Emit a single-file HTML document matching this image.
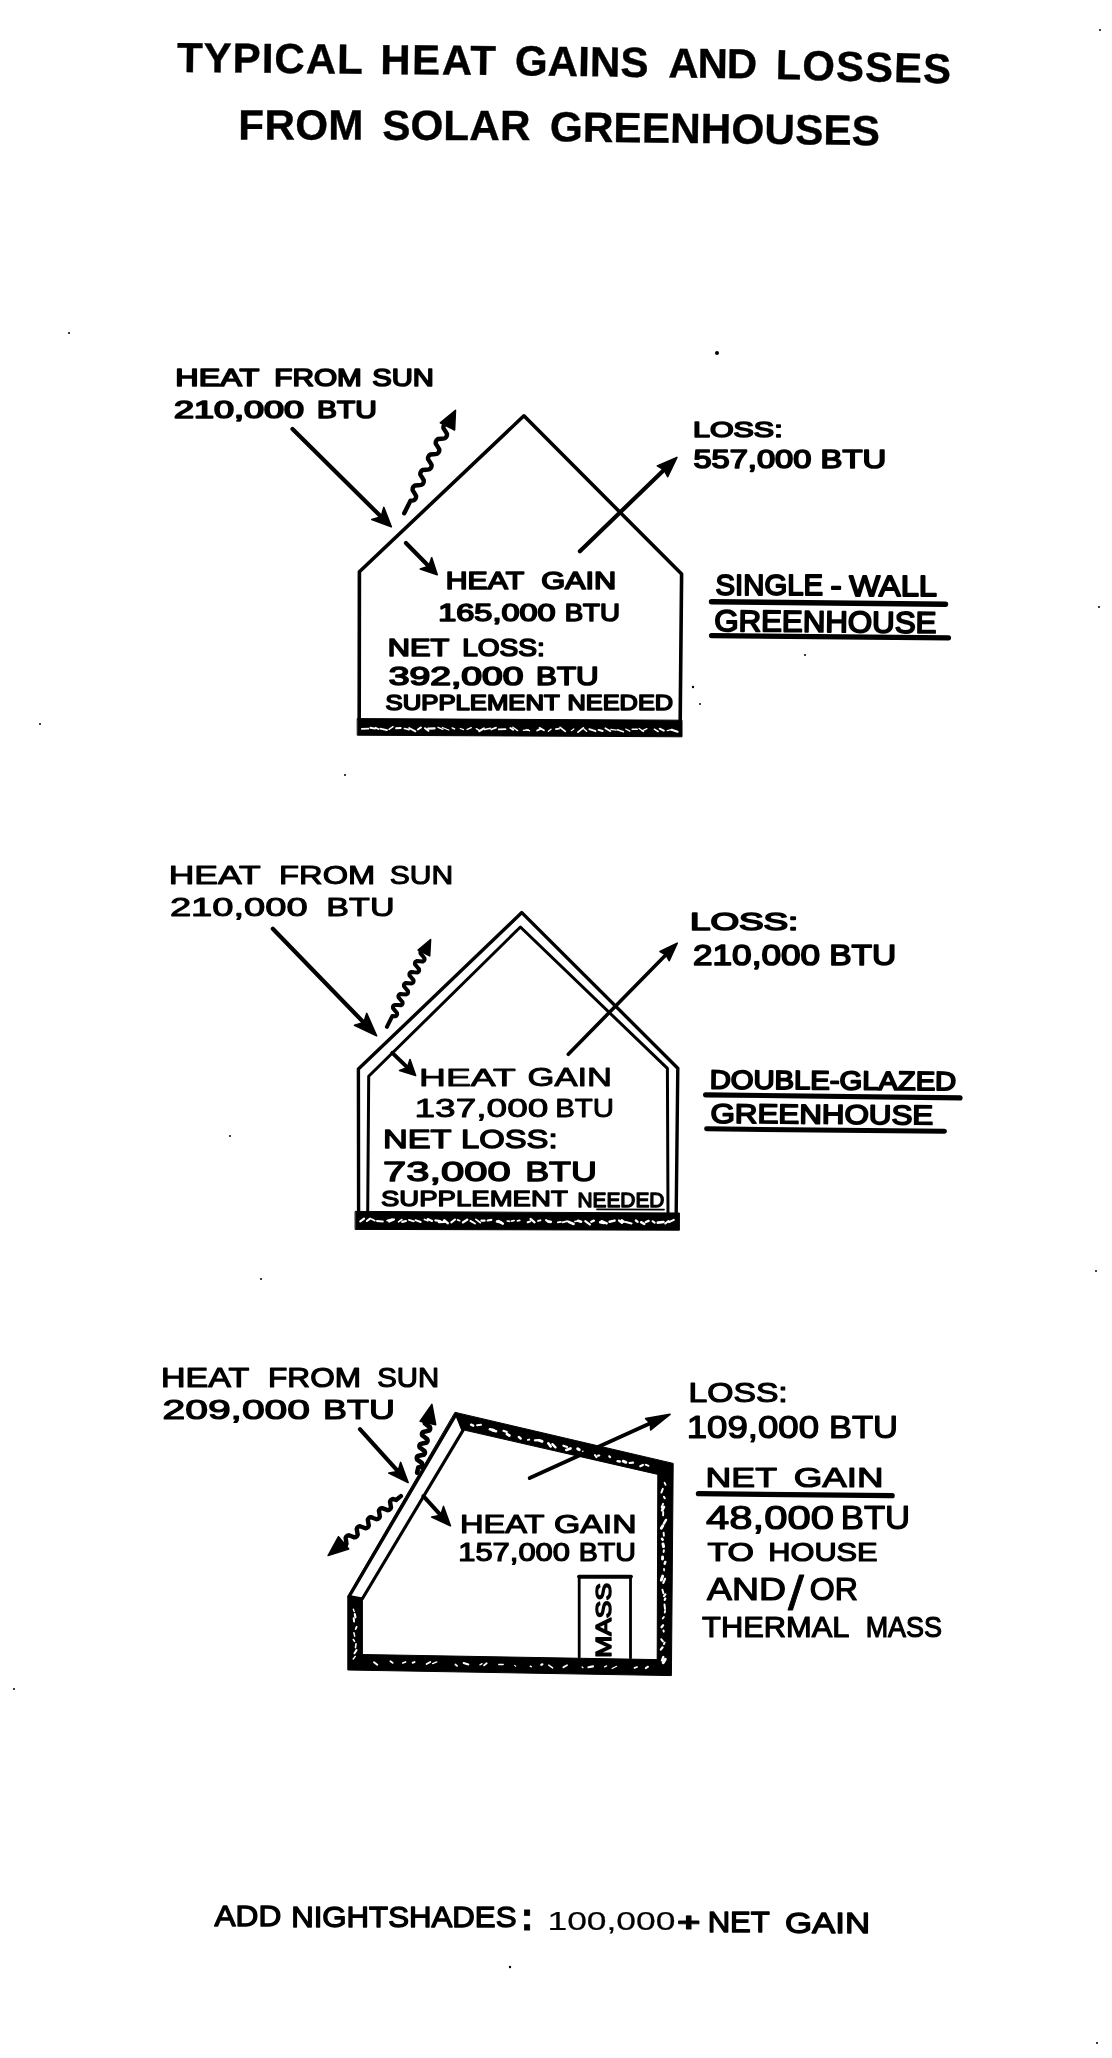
<!DOCTYPE html>
<html><head><meta charset="utf-8"><title>Typical heat gains and losses from solar greenhouses</title>
<style>
html,body{margin:0;padding:0;background:#fff}
svg{display:block;will-change:transform}
text{font-family:"Liberation Sans",sans-serif;fill:#000;stroke-linejoin:round}
text.t{font-weight:bold;stroke:#000}
line,path{stroke:#000;stroke-linecap:round;stroke-linejoin:round}
line.w{stroke:#fff}
</style></head><body>
<svg width="1112" height="2058" viewBox="0 0 1112 2058">
<rect x="0" y="0" width="1112" height="2058" fill="#fff" stroke="none"/>
<text class="t" transform="translate(176.88,72.10) rotate(0.500)" font-size="42.01" letter-spacing="1.034" stroke-width="0.4">TYPICAL</text>
<text class="t" transform="translate(380.28,74.00) rotate(0.500)" font-size="41.86" letter-spacing="1.606" stroke-width="0.4">HEAT</text>
<text class="t" transform="translate(514.81,75.20) rotate(0.800)" font-size="42.15" letter-spacing="0.013" stroke-width="0.4">GAINS</text>
<text class="t" transform="translate(668.25,77.40) rotate(0.600)" font-size="41.86" letter-spacing="-1.003" stroke-width="0.4">AND</text>
<text class="t" transform="translate(775.48,79.00) rotate(1.450)" font-size="41.86" letter-spacing="1.068" stroke-width="0.4">LOSSES</text>
<text class="t" transform="translate(238.36,139.40) rotate(0.100)" font-size="42.15" letter-spacing="0.318" stroke-width="0.4">FROM</text>
<text class="t" transform="translate(382.14,139.70) rotate(0.200)" font-size="42.15" letter-spacing="0.170" stroke-width="0.4">SOLAR</text>
<text class="t" transform="translate(549.71,141.30) rotate(0.680)" font-size="42.30" letter-spacing="0.101" stroke-width="0.4">GREENHOUSES</text>
<g id="d1">
<text transform="translate(175.31,385.70) scale(1.3273,1)" font-size="24.42" stroke="#000" stroke-width="1.6">HEAT</text>
<text transform="translate(274.22,385.70) scale(1.2197,1)" font-size="24.42" stroke="#000" stroke-width="1.6">FROM</text>
<text transform="translate(372.29,385.70) scale(1.1966,1)" font-size="24.42" stroke="#000" stroke-width="1.6">SUN</text>
<text transform="translate(174.10,417.60) scale(1.5446,1)" font-size="23.26" stroke="#000" stroke-width="1.6">210,000</text>
<text transform="translate(317.01,417.60) scale(1.2842,1)" font-size="23.26" stroke="#000" stroke-width="1.6">BTU</text>
<text transform="translate(445.78,589.00) scale(1.2459,1)" font-size="24.27" stroke="#000" stroke-width="1.6">HEAT</text>
<text transform="translate(541.16,589.00) scale(1.2671,1)" font-size="24.27" stroke="#000" stroke-width="1.6">GAIN</text>
<text transform="translate(438.26,620.70) scale(1.3376,1)" font-size="24.27" stroke="#000" stroke-width="1.6">165,000</text>
<text transform="translate(564.69,620.70) scale(1.1388,1)" font-size="24.27" stroke="#000" stroke-width="1.6">BTU</text>
<text transform="translate(387.74,655.80) scale(1.2609,1)" font-size="24.42" stroke="#000" stroke-width="1.6">NET</text>
<text transform="translate(462.15,655.80) scale(1.1511,1)" font-size="24.42" stroke="#000" stroke-width="1.6">LOSS:</text>
<text transform="translate(388.71,684.60) scale(1.4915,1)" font-size="25.00" stroke="#000" stroke-width="1.6">392,000</text>
<text transform="translate(536.09,684.60) scale(1.2531,1)" font-size="25.00" stroke="#000" stroke-width="1.6">BTU</text>
<text transform="translate(385.54,709.80) scale(1.2037,1)" font-size="21.37" stroke="#000" stroke-width="1.6">SUPPLEMENT</text>
<text transform="translate(567.57,709.80) scale(1.1851,1)" font-size="21.37" stroke="#000" stroke-width="1.6">NEEDED</text>
<text transform="translate(692.96,436.90) scale(1.3516,1)" font-size="22.53" stroke="#000" stroke-width="1.6">LOSS:</text>
<text transform="translate(693.39,468.40) scale(1.2975,1)" font-size="25.15" stroke="#000" stroke-width="1.6">557,000</text>
<text transform="translate(820.47,468.40) scale(1.3062,1)" font-size="25.15" stroke="#000" stroke-width="1.6">BTU</text>
<text transform="translate(715.58,595.23) scale(0.9882,1)" font-size="29.65" stroke="#000" stroke-width="1.8">SINGLE</text>
<text transform="translate(830.39,595.78) scale(1.1288,1)" font-size="29.65" stroke="#000" stroke-width="1.8">-</text>
<text transform="translate(849.24,596.24) scale(1.1021,1)" font-size="29.65" stroke="#000" stroke-width="1.8">WALL</text>
<text transform="translate(714.14,630.90) rotate(0.550) scale(1.0438,1)" font-size="29.94" stroke="#000" stroke-width="1.8">GREENHOUSE</text>
<line x1="711.5" y1="601.7" x2="945.5" y2="604.2" stroke-width="5.4"/>
<line x1="711.5" y1="635.6" x2="948.5" y2="637.8" stroke-width="5.2"/>
<path d="M359.2,719.0 L359.4,571.8 L523.9,415.8 L681.6,574.1 L680.2,720.0" stroke-width="3.6" fill="none" stroke-linejoin="miter"/>
<path d="M357.6,718.6 L682,720.2 L682,736.8 L357.6,735.2 Z" fill="#000" stroke="none"/>
<line class="w" x1="361.8" y1="728.9" x2="368.5" y2="728.6" stroke-width="1.7"/>
<line class="w" x1="370.4" y1="727.7" x2="375.1" y2="728.6" stroke-width="1.9"/>
<line class="w" x1="375.6" y1="727.7" x2="378.3" y2="729.0" stroke-width="1.8"/>
<line class="w" x1="380.2" y1="728.7" x2="386.9" y2="730.2" stroke-width="1.8"/>
<line class="w" x1="389.0" y1="729.4" x2="393.0" y2="726.6" stroke-width="1.4"/>
<line class="w" x1="396.1" y1="728.2" x2="400.7" y2="727.9" stroke-width="2.0"/>
<line class="w" x1="404.4" y1="728.5" x2="409.1" y2="729.6" stroke-width="1.6"/>
<line class="w" x1="409.2" y1="728.0" x2="415.4" y2="731.3" stroke-width="1.9"/>
<line class="w" x1="417.8" y1="729.5" x2="421.0" y2="727.4" stroke-width="1.9"/>
<line class="w" x1="425.0" y1="728.2" x2="428.4" y2="730.8" stroke-width="2.0"/>
<line class="w" x1="428.1" y1="728.6" x2="434.7" y2="728.4" stroke-width="2.1"/>
<line class="w" x1="438.0" y1="727.3" x2="442.9" y2="729.3" stroke-width="1.4"/>
<line class="w" x1="442.4" y1="727.5" x2="448.8" y2="730.0" stroke-width="1.3"/>
<line class="w" x1="452.1" y1="727.9" x2="454.6" y2="729.0" stroke-width="1.4"/>
<line class="w" x1="460.3" y1="728.5" x2="463.5" y2="729.6" stroke-width="1.3"/>
<line class="w" x1="467.2" y1="729.4" x2="471.3" y2="727.7" stroke-width="1.4"/>
<line class="w" x1="476.3" y1="728.7" x2="479.6" y2="730.7" stroke-width="1.4"/>
<line class="w" x1="479.3" y1="731.2" x2="483.9" y2="728.4" stroke-width="2.1"/>
<line class="w" x1="484.6" y1="729.5" x2="490.4" y2="728.2" stroke-width="1.5"/>
<line class="w" x1="491.2" y1="729.5" x2="496.0" y2="727.7" stroke-width="1.8"/>
<line class="w" x1="498.7" y1="729.3" x2="505.5" y2="729.2" stroke-width="1.7"/>
<line class="w" x1="510.4" y1="728.0" x2="513.1" y2="729.7" stroke-width="2.0"/>
<line class="w" x1="512.8" y1="727.2" x2="517.6" y2="730.6" stroke-width="1.4"/>
<line class="w" x1="523.3" y1="730.3" x2="528.5" y2="729.8" stroke-width="1.3"/>
<line class="w" x1="526.1" y1="729.7" x2="529.5" y2="730.7" stroke-width="1.4"/>
<line class="w" x1="537.2" y1="730.5" x2="540.7" y2="728.8" stroke-width="1.9"/>
<line class="w" x1="539.5" y1="727.9" x2="543.9" y2="730.3" stroke-width="1.8"/>
<line class="w" x1="548.4" y1="731.3" x2="551.0" y2="729.2" stroke-width="1.4"/>
<line class="w" x1="555.9" y1="729.2" x2="559.1" y2="728.6" stroke-width="1.7"/>
<line class="w" x1="560.1" y1="727.4" x2="565.2" y2="731.4" stroke-width="1.8"/>
<line class="w" x1="571.3" y1="730.7" x2="573.8" y2="728.9" stroke-width="1.2"/>
<line class="w" x1="578.0" y1="732.1" x2="583.3" y2="727.9" stroke-width="1.8"/>
<line class="w" x1="583.7" y1="728.8" x2="586.7" y2="731.4" stroke-width="1.3"/>
<line class="w" x1="589.3" y1="729.1" x2="595.5" y2="731.2" stroke-width="1.8"/>
<line class="w" x1="598.6" y1="729.9" x2="602.6" y2="731.0" stroke-width="2.0"/>
<line class="w" x1="605.3" y1="728.2" x2="610.5" y2="731.2" stroke-width="1.7"/>
<line class="w" x1="610.9" y1="729.3" x2="616.0" y2="730.1" stroke-width="1.3"/>
<line class="w" x1="617.3" y1="729.7" x2="623.4" y2="731.7" stroke-width="1.6"/>
<line class="w" x1="625.8" y1="729.0" x2="629.8" y2="731.1" stroke-width="1.3"/>
<line class="w" x1="632.1" y1="729.3" x2="637.3" y2="729.2" stroke-width="1.4"/>
<line class="w" x1="639.1" y1="728.5" x2="643.5" y2="731.5" stroke-width="1.4"/>
<line class="w" x1="641.9" y1="730.8" x2="646.9" y2="728.6" stroke-width="1.3"/>
<line class="w" x1="654.3" y1="729.2" x2="658.1" y2="731.5" stroke-width="1.5"/>
<line class="w" x1="659.7" y1="728.7" x2="663.8" y2="730.6" stroke-width="2.0"/>
<line class="w" x1="667.3" y1="730.6" x2="672.3" y2="729.3" stroke-width="1.3"/>
<line class="w" x1="671.5" y1="729.8" x2="677.6" y2="731.7" stroke-width="2.1"/>
<line x1="292.5" y1="429.0" x2="383.2" y2="518.8" stroke-width="4.2"/>
<path d="M391.3,526.8 L371.8,519.5 L381.2,516.8 L383.8,507.4 Z" fill="#000" stroke-width="1.6"/>
<line x1="405.9" y1="543.0" x2="430.5" y2="568.0" stroke-width="4.2"/>
<path d="M437.2,574.8 L420.3,569.0 L428.8,566.2 L431.7,557.8 Z" fill="#000" stroke-width="1.6"/>
<line x1="579.9" y1="551.3" x2="668.3" y2="465.7" stroke-width="4.2"/>
<path d="M676.9,457.4 L667.7,476.7 L664.0,469.9 L657.3,465.9 Z" fill="#000" stroke-width="1.6"/>
<path d="M404.2,513.3 L410.5,500.7 L413.8,500.4 L415.2,499.2 L416.0,497.6 L416.1,495.8 L414.3,492.9 L412.6,490.1 L412.7,488.2 L413.4,486.7 L414.9,485.5 L418.2,485.2 L421.5,484.9 L423.0,483.7 L423.7,482.1 L423.8,480.3 L422.1,477.4 L420.3,474.6 L420.4,472.7 L421.2,471.2 L422.6,470.0 L425.9,469.7 L429.3,469.4 L430.7,468.2 L431.5,466.6 L431.6,464.8 L429.8,461.9 L428.0,459.1 L428.1,457.2 L428.9,455.7 L430.3,454.5 L433.6,454.2 L437.0,453.9 L438.4,452.7 L439.2,451.1 L439.3,449.3 L437.5,446.4 L435.7,443.6 L435.8,441.7 L436.6,440.2 L438.0,439.0 L441.4,438.7 L444.7,438.4 L446.1,437.2 L446.9,435.6 L447.0,433.8 L445.2,430.9 L443.4,428.1 L443.5,426.2 L444.3,424.7 L445.8,423.5 L449.1,423.2" stroke-width="4.4" fill="none" stroke-linejoin="round"/>
<path d="M455.5,410.3 L454.6,430.0 L440.3,422.8 Z" fill="#000" stroke-width="1.5"/>
</g>
<g id="d2">
<text transform="translate(168.66,884.00) scale(1.4185,1)" font-size="25.00" stroke="#000" stroke-width="1.0">HEAT</text>
<text transform="translate(279.08,884.00) scale(1.3079,1)" font-size="25.00" stroke="#000" stroke-width="1.0">FROM</text>
<text transform="translate(389.75,884.00) scale(1.2030,1)" font-size="25.00" stroke="#000" stroke-width="1.0">SUN</text>
<text transform="translate(169.89,915.70) scale(1.4917,1)" font-size="25.58" stroke="#000" stroke-width="1.0">210,000</text>
<text transform="translate(326.37,915.70) scale(1.3327,1)" font-size="25.58" stroke="#000" stroke-width="1.0">BTU</text>
<text transform="translate(419.07,1085.65) scale(1.4995,1)" font-size="24.85" stroke="#000" stroke-width="0.9">HEAT</text>
<text transform="translate(527.52,1085.65) scale(1.3904,1)" font-size="24.85" stroke="#000" stroke-width="0.9">GAIN</text>
<text transform="translate(414.47,1116.95) scale(1.3933,1)" font-size="26.60" stroke="#000" stroke-width="0.9">137,000</text>
<text transform="translate(555.19,1116.95) scale(1.1085,1)" font-size="26.60" stroke="#000" stroke-width="0.9">BTU</text>
<text transform="translate(382.90,1147.55) scale(1.3647,1)" font-size="25.15" stroke="#000" stroke-width="1.3">NET</text>
<text transform="translate(461.03,1147.55) scale(1.3027,1)" font-size="25.15" stroke="#000" stroke-width="1.3">LOSS:</text>
<text transform="translate(382.96,1180.75) scale(1.5526,1)" font-size="26.89" stroke="#000" stroke-width="1.3">73,000</text>
<text transform="translate(525.18,1180.75) scale(1.3344,1)" font-size="26.89" stroke="#000" stroke-width="1.3">BTU</text>
<text transform="translate(380.91,1206.35) scale(1.2559,1)" font-size="21.95" stroke="#000" stroke-width="1.3">SUPPLEMENT</text>
<text transform="translate(577.48,1206.65) scale(1.0403,1)" font-size="20.06" stroke="#000" stroke-width="1.3">NEEDED</text>
<line x1="597.0" y1="1209.3" x2="664.0" y2="1209.6" stroke-width="1.8"/>
<text transform="translate(689.96,930.10) scale(1.5158,1)" font-size="24.27" stroke="#000" stroke-width="1.6">LOSS:</text>
<text transform="translate(692.94,965.20) scale(1.1993,1)" font-size="29.36" stroke="#000" stroke-width="1.6">210,000</text>
<text transform="translate(829.22,965.20) scale(1.1427,1)" font-size="29.36" stroke="#000" stroke-width="1.6">BTU</text>
<text transform="translate(709.77,1088.50) rotate(0.400) scale(1.1154,1)" font-size="26.16" stroke="#000" stroke-width="1.8">DOUBLE-GLAZED</text>
<text transform="translate(710.48,1122.75) rotate(0.450) scale(1.1587,1)" font-size="27.03" stroke="#000" stroke-width="1.7">GREENHOUSE</text>
<line x1="705.6" y1="1094.8" x2="960.0" y2="1097.9" stroke-width="5.2"/>
<line x1="706.6" y1="1128.8" x2="944.5" y2="1131.3" stroke-width="5"/>
<path d="M358.6,1213.0 L358.4,1069.1 L521.8,912.6 L677.8,1068.2 L676.2,1213.0" stroke-width="3.4" fill="none" stroke-linejoin="miter"/>
<path d="M367.7,1213.0 L368.7,1076.3 L520.4,927.0 L667.4,1068.4 L668.0,1213.0" stroke-width="3.0" fill="none" stroke-linejoin="miter"/>
<path d="M355.5,1211.4 L679.4,1213 L679.4,1230.2 L355.5,1229.4 Z" fill="#000" stroke="none"/>
<line class="w" x1="360.3" y1="1221.3" x2="364.1" y2="1218.7" stroke-width="2.2"/>
<line class="w" x1="366.9" y1="1221.0" x2="370.1" y2="1218.6" stroke-width="2.1"/>
<line class="w" x1="371.5" y1="1219.1" x2="374.8" y2="1220.7" stroke-width="1.7"/>
<line class="w" x1="377.0" y1="1220.9" x2="382.8" y2="1221.5" stroke-width="2.0"/>
<line class="w" x1="387.1" y1="1220.6" x2="392.3" y2="1219.1" stroke-width="1.7"/>
<line class="w" x1="389.2" y1="1221.6" x2="393.9" y2="1219.4" stroke-width="2.2"/>
<line class="w" x1="398.5" y1="1221.9" x2="401.9" y2="1219.5" stroke-width="1.6"/>
<line class="w" x1="402.4" y1="1221.9" x2="405.9" y2="1221.0" stroke-width="2.2"/>
<line class="w" x1="408.9" y1="1219.8" x2="413.9" y2="1221.3" stroke-width="1.8"/>
<line class="w" x1="415.5" y1="1220.2" x2="420.7" y2="1222.0" stroke-width="1.9"/>
<line class="w" x1="424.4" y1="1219.5" x2="427.9" y2="1220.8" stroke-width="1.7"/>
<line class="w" x1="427.7" y1="1219.1" x2="432.0" y2="1220.9" stroke-width="2.2"/>
<line class="w" x1="435.4" y1="1220.4" x2="440.2" y2="1221.0" stroke-width="2.2"/>
<line class="w" x1="438.9" y1="1222.1" x2="444.7" y2="1221.9" stroke-width="2.3"/>
<line class="w" x1="444.2" y1="1220.2" x2="447.7" y2="1223.1" stroke-width="2.5"/>
<line class="w" x1="451.3" y1="1222.4" x2="455.0" y2="1219.5" stroke-width="2.1"/>
<line class="w" x1="457.6" y1="1219.9" x2="459.7" y2="1220.7" stroke-width="1.7"/>
<line class="w" x1="462.8" y1="1222.5" x2="467.4" y2="1219.5" stroke-width="2.1"/>
<line class="w" x1="470.4" y1="1220.9" x2="475.0" y2="1223.5" stroke-width="1.9"/>
<line class="w" x1="475.9" y1="1219.3" x2="480.3" y2="1222.7" stroke-width="1.7"/>
<line class="w" x1="481.5" y1="1220.7" x2="484.5" y2="1220.7" stroke-width="2.3"/>
<line class="w" x1="487.7" y1="1220.5" x2="491.3" y2="1219.9" stroke-width="2.2"/>
<line class="w" x1="496.9" y1="1221.5" x2="500.9" y2="1222.2" stroke-width="2.4"/>
<line class="w" x1="498.4" y1="1221.1" x2="502.8" y2="1223.7" stroke-width="2.5"/>
<line class="w" x1="507.2" y1="1221.0" x2="509.5" y2="1221.4" stroke-width="1.6"/>
<line class="w" x1="511.6" y1="1221.1" x2="514.2" y2="1220.5" stroke-width="1.6"/>
<line class="w" x1="517.4" y1="1220.9" x2="519.8" y2="1220.4" stroke-width="1.6"/>
<line class="w" x1="527.7" y1="1222.3" x2="530.2" y2="1221.4" stroke-width="2.0"/>
<line class="w" x1="530.5" y1="1218.9" x2="534.6" y2="1222.4" stroke-width="2.1"/>
<line class="w" x1="538.0" y1="1220.9" x2="540.4" y2="1220.3" stroke-width="1.9"/>
<line class="w" x1="546.1" y1="1220.2" x2="547.8" y2="1221.4" stroke-width="2.2"/>
<line class="w" x1="548.7" y1="1221.7" x2="550.8" y2="1221.8" stroke-width="2.7"/>
<line class="w" x1="557.8" y1="1222.4" x2="560.8" y2="1221.9" stroke-width="1.7"/>
<line class="w" x1="562.4" y1="1222.4" x2="567.4" y2="1221.2" stroke-width="1.8"/>
<line class="w" x1="568.7" y1="1221.8" x2="573.6" y2="1224.0" stroke-width="2.5"/>
<line class="w" x1="574.9" y1="1221.5" x2="578.9" y2="1220.7" stroke-width="1.6"/>
<line class="w" x1="578.1" y1="1220.8" x2="581.0" y2="1221.7" stroke-width="2.7"/>
<line class="w" x1="585.2" y1="1221.1" x2="590.0" y2="1224.6" stroke-width="2.0"/>
<line class="w" x1="591.3" y1="1221.7" x2="593.9" y2="1220.6" stroke-width="2.3"/>
<line class="w" x1="600.1" y1="1222.3" x2="603.9" y2="1223.1" stroke-width="2.5"/>
<line class="w" x1="601.5" y1="1221.2" x2="606.7" y2="1223.4" stroke-width="2.4"/>
<line class="w" x1="609.6" y1="1221.7" x2="614.6" y2="1220.6" stroke-width="2.5"/>
<line class="w" x1="619.1" y1="1220.6" x2="622.0" y2="1222.8" stroke-width="2.4"/>
<line class="w" x1="621.7" y1="1220.4" x2="623.8" y2="1221.8" stroke-width="2.5"/>
<line class="w" x1="625.8" y1="1222.1" x2="631.6" y2="1223.4" stroke-width="2.0"/>
<line class="w" x1="635.9" y1="1220.5" x2="637.6" y2="1221.8" stroke-width="2.3"/>
<line class="w" x1="641.1" y1="1222.2" x2="644.3" y2="1224.0" stroke-width="2.5"/>
<line class="w" x1="645.8" y1="1222.0" x2="648.7" y2="1220.9" stroke-width="2.2"/>
<line class="w" x1="652.5" y1="1221.2" x2="654.6" y2="1222.6" stroke-width="2.0"/>
<line class="w" x1="657.8" y1="1222.6" x2="663.4" y2="1222.0" stroke-width="2.7"/>
<line class="w" x1="665.3" y1="1223.5" x2="668.5" y2="1221.0" stroke-width="2.1"/>
<line class="w" x1="669.1" y1="1222.1" x2="673.8" y2="1219.9" stroke-width="2.1"/>
<line x1="272.8" y1="928.8" x2="367.0" y2="1025.9" stroke-width="4.2"/>
<path d="M376.6,1035.8 L354.5,1025.2 L363.8,1022.6 L366.7,1013.4 Z" fill="#000" stroke-width="1.6"/>
<line x1="392.3" y1="1052.9" x2="409.1" y2="1069.1" stroke-width="4"/>
<path d="M415.6,1075.4 L399.6,1070.4 L407.5,1067.6 L410.0,1059.6 Z" fill="#000" stroke-width="1.6"/>
<line x1="568.3" y1="1054.3" x2="669.6" y2="950.9" stroke-width="3.6"/>
<path d="M677.2,943.2 L669.2,960.6 L665.9,954.8 L660.0,951.5 Z" fill="#000" stroke-width="1.6"/>
<path d="M386.9,1026.8 L392.3,1016.1 L395.4,1016.3 L396.6,1015.5 L397.1,1014.4 L397.0,1013.0 L395.0,1010.6 L393.0,1008.2 L392.9,1006.8 L393.4,1005.7 L394.7,1004.9 L397.8,1005.1 L400.9,1005.3 L402.1,1004.6 L402.6,1003.5 L402.5,1002.0 L400.5,999.7 L398.5,997.3 L398.4,995.8 L398.9,994.8 L400.1,994.0 L403.3,994.2 L406.4,994.4 L407.6,993.6 L408.1,992.5 L408.0,991.1 L406.0,988.7 L404.0,986.3 L403.9,984.9 L404.4,983.8 L405.6,983.0 L408.7,983.2 L411.8,983.4 L413.1,982.6 L413.6,981.5 L413.5,980.1 L411.5,977.7 L409.5,975.4 L409.4,973.9 L409.9,972.8 L411.1,972.1 L414.2,972.3 L417.3,972.4 L418.6,971.7 L419.1,970.6 L419.0,969.1 L417.0,966.8 L415.0,964.4 L414.9,963.0 L415.4,961.9 L416.6,961.1 L419.7,961.3 L422.8,961.5 L424.0,960.7 L424.6,959.6 L424.5,958.2 L422.5,955.8 L420.5,953.4 L420.4,952.0 L420.9,950.9 L422.1,950.1 L425.2,950.3" stroke-width="4" fill="none" stroke-linejoin="round"/>
<path d="M430.6,939.6 L429.7,955.9 L418.1,950.1 Z" fill="#000" stroke-width="1.5"/>
</g>
<g id="d3">
<text transform="translate(161.08,1386.80) scale(1.2049,1)" font-size="28.20" stroke="#000" stroke-width="1.2">HEAT</text>
<text transform="translate(268.07,1386.80) scale(1.1213,1)" font-size="28.20" stroke="#000" stroke-width="1.2">FROM</text>
<text transform="translate(377.18,1386.80) scale(1.0398,1)" font-size="28.20" stroke="#000" stroke-width="1.2">SUN</text>
<text transform="translate(162.56,1419.10) scale(1.5171,1)" font-size="26.89" stroke="#000" stroke-width="1.2">209,000</text>
<text transform="translate(323.03,1419.10) scale(1.3364,1)" font-size="26.89" stroke="#000" stroke-width="1.2">BTU</text>
<text transform="translate(459.89,1533.00) scale(1.2620,1)" font-size="25.87" stroke="#000" stroke-width="1.2">HEAT</text>
<text transform="translate(554.11,1533.00) scale(1.3040,1)" font-size="25.87" stroke="#000" stroke-width="1.2">GAIN</text>
<text transform="translate(458.18,1561.40) scale(1.2382,1)" font-size="25.00" stroke="#000" stroke-width="1.2">157,000</text>
<text transform="translate(578.71,1561.40) scale(1.1447,1)" font-size="25.00" stroke="#000" stroke-width="1.2">BTU</text>
<text transform="translate(688.50,1402.20) scale(1.2201,1)" font-size="27.62" stroke="#000" stroke-width="1.2">LOSS:</text>
<text transform="translate(686.65,1437.60) scale(1.1570,1)" font-size="31.69" stroke="#000" stroke-width="1.2">109,000</text>
<text transform="translate(828.93,1437.60) scale(1.0913,1)" font-size="31.69" stroke="#000" stroke-width="1.2">BTU</text>
<text transform="translate(705.54,1486.70) scale(1.2674,1)" font-size="28.20" stroke="#000" stroke-width="1.2">NET</text>
<text transform="translate(793.66,1487.25) scale(1.3037,1)" font-size="28.20" stroke="#000" stroke-width="1.2">GAIN</text>
<text transform="translate(705.96,1529.05) scale(1.2858,1)" font-size="32.56" stroke="#000" stroke-width="1.2">48,000</text>
<text transform="translate(840.72,1529.47) scale(1.0671,1)" font-size="32.56" stroke="#000" stroke-width="1.2">BTU</text>
<text transform="translate(707.42,1561.20) scale(1.3376,1)" font-size="25.44" stroke="#000" stroke-width="1.2">TO</text>
<text transform="translate(768.24,1561.20) scale(1.2098,1)" font-size="25.44" stroke="#000" stroke-width="1.2">HOUSE</text>
<text transform="translate(707.10,1600.20) scale(1.2264,1)" font-size="30.52" stroke="#000" stroke-width="1.2">AND</text>
<text transform="translate(809.85,1600.20) scale(1.0526,1)" font-size="30.52" stroke="#000" stroke-width="1.2">OR</text>
<text transform="translate(788.00,1609.52) scale(0.5714,0.4762)" font-size="100" stroke="#000" stroke-width="1.75">/</text>
<text transform="translate(702.08,1637.20) scale(1.0400,1)" font-size="29.65" stroke="#000" stroke-width="1.2">THERMAL</text>
<text transform="translate(865.64,1637.20) scale(0.9089,1)" font-size="29.65" stroke="#000" stroke-width="1.2">MASS</text>
<text transform="translate(611.25,1657.76) rotate(-90) scale(1.2354,1)" font-size="21.37" stroke="#000" stroke-width="1.5">MASS</text>
<line x1="698.4" y1="1493.6" x2="892.2" y2="1495.7" stroke-width="5.2"/>
<path d="M455.3,1412.4 L673.2,1463.4 L671.4,1675.6 L347.8,1670.0 L347.8,1596.5 Z M462.1,1429.6 L657.8,1474.4 L657.2,1659.6 L362.4,1654.5 L362.4,1598.8 Z" fill="#000" fill-rule="evenodd" stroke="none"/>
<path d="M456.3,1414 L349.2,1596.5 L362.2,1599 L463,1430.4 Z" fill="#fff" stroke-width="3.1" stroke-linejoin="miter"/>
<line class="w" x1="471.1" y1="1424.7" x2="473.2" y2="1425.6" stroke-width="2.5"/>
<line class="w" x1="477.1" y1="1425.2" x2="481.0" y2="1424.8" stroke-width="2.0"/>
<line class="w" x1="489.8" y1="1429.2" x2="493.7" y2="1430.0" stroke-width="2.5"/>
<line class="w" x1="492.1" y1="1430.2" x2="496.0" y2="1431.2" stroke-width="2.7"/>
<line class="w" x1="503.4" y1="1430.8" x2="506.8" y2="1432.1" stroke-width="2.1"/>
<line class="w" x1="507.0" y1="1434.1" x2="509.3" y2="1435.5" stroke-width="2.8"/>
<line class="w" x1="518.8" y1="1437.0" x2="520.7" y2="1438.5" stroke-width="2.3"/>
<line class="w" x1="527.9" y1="1439.9" x2="529.2" y2="1439.6" stroke-width="2.0"/>
<line class="w" x1="535.0" y1="1440.3" x2="538.2" y2="1440.1" stroke-width="2.3"/>
<line class="w" x1="539.2" y1="1440.4" x2="542.1" y2="1441.4" stroke-width="2.9"/>
<line class="w" x1="548.3" y1="1443.3" x2="550.7" y2="1446.5" stroke-width="2.6"/>
<line class="w" x1="552.4" y1="1444.2" x2="555.5" y2="1447.3" stroke-width="2.4"/>
<line class="w" x1="563.4" y1="1445.7" x2="567.1" y2="1447.0" stroke-width="2.1"/>
<line class="w" x1="566.3" y1="1449.9" x2="570.5" y2="1448.4" stroke-width="2.7"/>
<line class="w" x1="577.6" y1="1448.7" x2="579.3" y2="1449.8" stroke-width="2.8"/>
<line class="w" x1="582.9" y1="1451.7" x2="583.9" y2="1452.3" stroke-width="2.1"/>
<line class="w" x1="594.9" y1="1455.0" x2="596.5" y2="1457.2" stroke-width="2.1"/>
<line class="w" x1="598.1" y1="1455.7" x2="599.2" y2="1455.5" stroke-width="2.2"/>
<line class="w" x1="609.2" y1="1456.3" x2="610.1" y2="1457.1" stroke-width="2.1"/>
<line class="w" x1="617.6" y1="1461.1" x2="619.8" y2="1461.5" stroke-width="2.4"/>
<line class="w" x1="623.2" y1="1461.2" x2="625.9" y2="1462.3" stroke-width="2.9"/>
<line class="w" x1="629.6" y1="1463.0" x2="633.1" y2="1462.6" stroke-width="2.1"/>
<line class="w" x1="640.3" y1="1466.2" x2="642.9" y2="1464.9" stroke-width="2.2"/>
<line class="w" x1="645.6" y1="1464.6" x2="648.5" y2="1465.9" stroke-width="1.8"/>
<line class="w" x1="664.5" y1="1482.7" x2="665.6" y2="1484.8" stroke-width="1.8"/>
<line class="w" x1="662.8" y1="1488.9" x2="661.4" y2="1492.5" stroke-width="2.0"/>
<line class="w" x1="663.9" y1="1496.8" x2="664.8" y2="1498.2" stroke-width="2.0"/>
<line class="w" x1="663.1" y1="1503.8" x2="661.6" y2="1507.3" stroke-width="1.9"/>
<line class="w" x1="663.9" y1="1507.1" x2="662.2" y2="1510.2" stroke-width="2.8"/>
<line class="w" x1="663.2" y1="1512.0" x2="663.1" y2="1515.4" stroke-width="1.9"/>
<line class="w" x1="666.0" y1="1519.9" x2="663.9" y2="1523.6" stroke-width="2.4"/>
<line class="w" x1="662.8" y1="1525.7" x2="661.3" y2="1528.3" stroke-width="2.8"/>
<line class="w" x1="663.6" y1="1532.6" x2="663.9" y2="1535.7" stroke-width="1.9"/>
<line class="w" x1="662.0" y1="1538.8" x2="662.7" y2="1539.8" stroke-width="2.5"/>
<line class="w" x1="663.0" y1="1544.0" x2="663.6" y2="1546.6" stroke-width="3.0"/>
<line class="w" x1="663.9" y1="1550.2" x2="663.6" y2="1551.9" stroke-width="2.0"/>
<line class="w" x1="662.6" y1="1556.9" x2="662.5" y2="1559.0" stroke-width="2.9"/>
<line class="w" x1="665.3" y1="1562.0" x2="664.7" y2="1563.7" stroke-width="2.5"/>
<line class="w" x1="664.0" y1="1568.8" x2="664.1" y2="1570.5" stroke-width="1.7"/>
<line class="w" x1="662.7" y1="1576.0" x2="661.3" y2="1580.1" stroke-width="2.9"/>
<line class="w" x1="665.0" y1="1578.8" x2="663.3" y2="1582.9" stroke-width="2.2"/>
<line class="w" x1="662.4" y1="1589.7" x2="663.5" y2="1593.4" stroke-width="1.9"/>
<line class="w" x1="665.4" y1="1594.3" x2="664.0" y2="1596.1" stroke-width="2.1"/>
<line class="w" x1="665.3" y1="1598.5" x2="664.7" y2="1599.9" stroke-width="2.2"/>
<line class="w" x1="664.5" y1="1604.5" x2="665.0" y2="1608.9" stroke-width="2.0"/>
<line class="w" x1="665.1" y1="1610.9" x2="664.7" y2="1612.5" stroke-width="1.9"/>
<line class="w" x1="663.9" y1="1617.0" x2="662.7" y2="1618.5" stroke-width="1.8"/>
<line class="w" x1="663.1" y1="1625.3" x2="661.5" y2="1627.2" stroke-width="2.3"/>
<line class="w" x1="663.5" y1="1630.4" x2="663.7" y2="1631.6" stroke-width="2.0"/>
<line class="w" x1="661.2" y1="1639.2" x2="662.9" y2="1641.4" stroke-width="2.0"/>
<line class="w" x1="664.7" y1="1642.5" x2="663.9" y2="1644.1" stroke-width="1.9"/>
<line class="w" x1="662.6" y1="1647.3" x2="660.8" y2="1649.6" stroke-width="2.2"/>
<line class="w" x1="663.3" y1="1657.0" x2="662.0" y2="1660.5" stroke-width="2.3"/>
<line class="w" x1="665.3" y1="1659.2" x2="663.2" y2="1662.7" stroke-width="2.9"/>
<line class="w" x1="374.0" y1="1662.3" x2="377.3" y2="1664.8" stroke-width="1.9"/>
<line class="w" x1="390.4" y1="1661.2" x2="392.7" y2="1662.9" stroke-width="1.8"/>
<line class="w" x1="402.8" y1="1663.0" x2="405.5" y2="1662.0" stroke-width="1.7"/>
<line class="w" x1="412.7" y1="1662.7" x2="414.5" y2="1662.1" stroke-width="2.0"/>
<line class="w" x1="426.6" y1="1664.0" x2="430.3" y2="1662.0" stroke-width="1.8"/>
<line class="w" x1="432.6" y1="1663.6" x2="436.8" y2="1661.9" stroke-width="1.4"/>
<line class="w" x1="455.4" y1="1664.5" x2="457.1" y2="1665.9" stroke-width="1.7"/>
<line class="w" x1="463.7" y1="1663.1" x2="468.3" y2="1664.4" stroke-width="2.1"/>
<line class="w" x1="479.9" y1="1664.8" x2="482.1" y2="1663.7" stroke-width="1.3"/>
<line class="w" x1="484.0" y1="1665.4" x2="486.7" y2="1663.2" stroke-width="1.8"/>
<line class="w" x1="498.8" y1="1664.6" x2="503.1" y2="1664.6" stroke-width="1.5"/>
<line class="w" x1="514.7" y1="1665.4" x2="515.7" y2="1666.2" stroke-width="1.2"/>
<line class="w" x1="530.3" y1="1666.2" x2="531.3" y2="1666.6" stroke-width="1.5"/>
<line class="w" x1="541.3" y1="1664.8" x2="542.4" y2="1664.3" stroke-width="2.1"/>
<line class="w" x1="548.8" y1="1665.1" x2="552.6" y2="1667.9" stroke-width="1.5"/>
<line class="w" x1="563.4" y1="1667.3" x2="567.0" y2="1665.2" stroke-width="1.9"/>
<line class="w" x1="582.1" y1="1667.0" x2="583.0" y2="1667.7" stroke-width="1.3"/>
<line class="w" x1="588.4" y1="1667.3" x2="593.0" y2="1666.4" stroke-width="2.1"/>
<line class="w" x1="604.6" y1="1666.9" x2="606.6" y2="1665.9" stroke-width="1.3"/>
<line class="w" x1="612.1" y1="1668.5" x2="616.6" y2="1666.3" stroke-width="1.2"/>
<line class="w" x1="634.5" y1="1667.9" x2="637.0" y2="1667.0" stroke-width="1.7"/>
<line class="w" x1="645.8" y1="1668.2" x2="648.0" y2="1666.7" stroke-width="2.0"/>
<line class="w" x1="353.4" y1="1609.2" x2="354.2" y2="1611.6" stroke-width="1.4"/>
<line class="w" x1="354.8" y1="1614.2" x2="355.4" y2="1617.4" stroke-width="2.2"/>
<line class="w" x1="353.7" y1="1618.3" x2="354.1" y2="1621.5" stroke-width="2.0"/>
<line class="w" x1="356.7" y1="1626.7" x2="355.6" y2="1629.1" stroke-width="1.7"/>
<line class="w" x1="353.9" y1="1632.7" x2="354.7" y2="1636.2" stroke-width="1.5"/>
<line class="w" x1="353.3" y1="1639.5" x2="354.5" y2="1641.4" stroke-width="1.6"/>
<line class="w" x1="356.0" y1="1643.7" x2="355.5" y2="1647.6" stroke-width="1.6"/>
<line class="w" x1="356.5" y1="1650.1" x2="354.5" y2="1653.3" stroke-width="2.0"/>
<line class="w" x1="355.3" y1="1656.4" x2="353.2" y2="1659.0" stroke-width="1.4"/>
<path d="M579.2,1657.0 L579.2,1577.2 L630.5,1577.2 L630.5,1658.0" stroke-width="2.8" fill="none" stroke-linejoin="miter"/>
<line x1="579.0" y1="1576.6" x2="631.0" y2="1576.6" stroke-width="3.8"/>
<line x1="359.9" y1="1429.2" x2="400.1" y2="1473.7" stroke-width="4.2"/>
<path d="M408.1,1482.6 L388.8,1473.1 L398.0,1471.5 L400.6,1462.4 Z" fill="#000" stroke-width="1.6"/>
<line x1="423.4" y1="1496.1" x2="442.7" y2="1517.4" stroke-width="4"/>
<path d="M450.4,1525.8 L431.7,1517.1 L440.8,1515.3 L443.5,1506.4 Z" fill="#000" stroke-width="1.6"/>
<line x1="529.7" y1="1478.1" x2="656.9" y2="1420.3" stroke-width="3.8"/>
<path d="M670.0,1414.3 L650.7,1429.9 L650.3,1423.2 L645.6,1418.6 Z" fill="#000" stroke-width="1.6"/>
<path d="M417.1,1472.7 L418.3,1467.4 L421.2,1466.7 L422.1,1465.7 L422.4,1464.5 L421.9,1463.1 L419.6,1461.3 L417.2,1459.6 L416.8,1458.2 L417.0,1457.0 L418.0,1456.0 L420.9,1455.3 L423.8,1454.7 L424.7,1453.6 L425.0,1452.4 L424.5,1451.1 L422.2,1449.3 L419.8,1447.5 L419.4,1446.2 L419.6,1445.0 L420.6,1443.9 L423.5,1443.3 L426.4,1442.7 L427.3,1441.6 L427.6,1440.4 L427.1,1439.1 L424.8,1437.3 L422.4,1435.5 L422.0,1434.2 L422.2,1433.0 L423.2,1431.9 L426.1,1431.3 L429.0,1430.6 L429.9,1429.6 L430.2,1428.4 L429.8,1427.0 L427.4,1425.3 L425.0,1423.5 L424.6,1422.1 L424.8,1420.9 L425.8,1419.9 L428.7,1419.3" stroke-width="4.6" fill="none" stroke-linejoin="round"/>
<path d="M431.9,1404.4 L435.7,1424.7 L420.1,1421.3 Z" fill="#000" stroke-width="1.5"/>
<path d="M400.9,1496.1 L396.1,1500.0 L393.4,1499.0 L391.8,1499.4 L390.7,1500.3 L390.0,1501.7 L390.5,1504.6 L391.0,1507.5 L390.3,1508.9 L389.2,1509.8 L387.7,1510.2 L385.0,1509.1 L382.2,1508.1 L380.7,1508.4 L379.6,1509.4 L378.9,1510.8 L379.4,1513.6 L379.9,1516.5 L379.2,1517.9 L378.1,1518.8 L376.6,1519.2 L373.8,1518.2 L371.1,1517.1 L369.6,1517.5 L368.5,1518.4 L367.8,1519.8 L368.3,1522.7 L368.8,1525.6 L368.1,1527.0 L367.0,1527.9 L365.4,1528.3 L362.7,1527.2 L360.0,1526.2 L358.5,1526.6 L357.4,1527.5 L356.7,1528.9 L357.2,1531.8 L357.7,1534.7 L357.0,1536.1 L355.9,1537.0 L354.3,1537.4 L351.6,1536.3 L348.9,1535.3 L347.4,1535.7 L346.3,1536.6 L345.6,1538.0 L346.1,1540.9 L346.5,1543.7 L345.9,1545.1 L344.7,1546.1 L343.2,1546.4 L340.5,1545.4" stroke-width="4.4" fill="none" stroke-linejoin="round"/>
<path d="M328.1,1555.5 L338.5,1536.7 L348.7,1549.1 Z" fill="#000" stroke-width="1.5"/>
</g>
<text transform="translate(214.45,1925.99) scale(1.0787,1)" font-size="29.36" stroke="#000" stroke-width="1.3">ADD</text>
<text transform="translate(291.15,1926.87) scale(1.0628,1)" font-size="29.36" stroke="#000" stroke-width="1.3">NIGHTSHADES</text>
<text transform="translate(520.70,1930.00) scale(0.3786,0.3842)" font-size="100" font-weight="bold" stroke="#000" stroke-width="2.08">:</text>
<text transform="translate(547.47,1929.88) scale(1.3416,1)" font-size="26.38" stroke="#000" stroke-width="0.25">100,000</text>
<text transform="translate(676.89,1930.77) scale(0.4020,0.2627)" font-size="100" font-weight="bold" stroke="#000" stroke-width="2.99">+</text>
<text transform="translate(707.66,1931.98) scale(1.0754,1)" font-size="28.92" stroke="#000" stroke-width="1.3">NET</text>
<text transform="translate(785.01,1932.64) scale(1.2037,1)" font-size="28.92" stroke="#000" stroke-width="1.3">GAIN</text>
<circle cx="717" cy="353" r="2" fill="#000" stroke="none"/>
<circle cx="69" cy="333" r="1" fill="#000" stroke="none"/>
<circle cx="40" cy="724" r="1" fill="#000" stroke="none"/>
<circle cx="345" cy="775" r="1" fill="#000" stroke="none"/>
<circle cx="693" cy="687" r="1.2" fill="#000" stroke="none"/>
<circle cx="700" cy="704" r="1" fill="#000" stroke="none"/>
<circle cx="1099" cy="607" r="1" fill="#000" stroke="none"/>
<circle cx="261" cy="1279" r="1" fill="#000" stroke="none"/>
<circle cx="230" cy="1136" r="1" fill="#000" stroke="none"/>
<circle cx="1096" cy="1271" r="1" fill="#000" stroke="none"/>
<circle cx="510" cy="1967" r="1.2" fill="#000" stroke="none"/>
<circle cx="1097" cy="2043" r="1" fill="#000" stroke="none"/>
<circle cx="805" cy="655" r="1" fill="#000" stroke="none"/>
<circle cx="14" cy="1689" r="1" fill="#000" stroke="none"/>
<circle cx="1100" cy="30" r="1" fill="#000" stroke="none"/>
</svg>
</body></html>
